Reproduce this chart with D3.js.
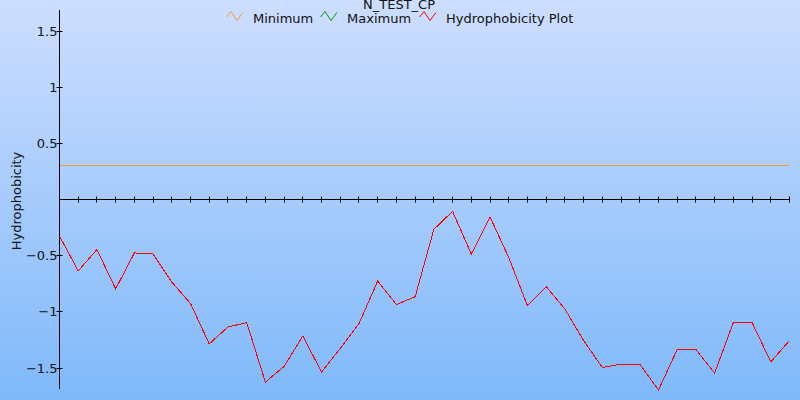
<!DOCTYPE html>
<html>
<head>
<meta charset="utf-8">
<script src="https://cdn.jsdelivr.net/npm/d3@7"></script>
<style>
html,body{margin:0;padding:0;background:#fff;}
svg{display:block;}
text{font-family:"DejaVu Sans",Verdana,sans-serif;}
</style>
</head>
<body>
<svg id="chart" width="800" height="400"></svg>
<script>
const title = "N_TEST_CP";
const yLabel = "Hydrophobicity";
const legendLabels = ["Minimum", "Maximum", "Hydrophobicity Plot"];
const legendColors = ["#f0a030", "#009a00", "#ff0000"];
const yTickValues = [-1.5, -1, -0.5, 0.5, 1, 1.5];
const minimumValue = 0.3;
const hydrophobicity = [
  -0.33, -0.64, -0.45, -0.80, -0.48, -0.49, -0.74, -0.93, -1.29, -1.14,
  -1.10, -1.63, -1.49, -1.22, -1.54, -1.33, -1.11, -0.73, -0.94, -0.87,
  -0.27, -0.11, -0.49, -0.16, -0.52, -0.95, -0.78, -0.98, -1.26, -1.50,
  -1.47, -1.47, -1.70, -1.34, -1.34, -1.55, -1.10, -1.10, -1.45, -1.26
];

const svg = d3.select("#chart");
const W = 800, H = 400;

// background gradient
const defs = svg.append("defs");
const grad = defs.append("linearGradient").attr("id","bg").attr("x1",0).attr("y1",0).attr("x2",0).attr("y2",1);
grad.append("stop").attr("offset","0%").attr("stop-color","rgb(205,222,254)");
grad.append("stop").attr("offset","100%").attr("stop-color","rgb(127,185,250)");
svg.append("rect").attr("width",W).attr("height",H).attr("fill","url(#bg)");

const x = d3.scaleLinear().domain([0, hydrophobicity.length - 1]).range([59.5, 789.5]);
const y = d3.scaleLinear().domain([-1.5, 1.5]).range([367.5, 30.5]);
const axisTop = 10, axisBottom = 389;

// minimum line
svg.append("line")
  .attr("x1", x(0)).attr("x2", x(hydrophobicity.length - 1))
  .attr("y1", Math.round(y(minimumValue)) + 0.5).attr("y2", Math.round(y(minimumValue)) + 0.5)
  .attr("stroke", legendColors[0]).attr("stroke-width", 1);

// y axis
const yAxisG = svg.append("g").attr("transform", "translate(59.5,0)");
yAxisG.append("line").attr("x1",0).attr("x2",0).attr("y1",axisTop).attr("y2",axisBottom)
  .attr("stroke","#000").attr("stroke-width",1);
yTickValues.forEach(v => {
  const yy = Math.round(y(v)) + 0.5;
  yAxisG.append("line").attr("x1",-3).attr("x2",3).attr("y1",yy).attr("y2",yy)
    .attr("stroke","#000").attr("stroke-width",1);
  yAxisG.append("text").attr("x",-2).attr("y",yy).attr("dy","0.36em")
    .attr("text-anchor","end").attr("font-size",13).attr("fill","#111")
    .text(d3.format("")(v));
});

// x axis at zero
const y0 = Math.round(y(0)) + 0.5;
const xAxisG = svg.append("g");
xAxisG.append("line").attr("x1",x(0)).attr("x2",x(hydrophobicity.length-1)).attr("y1",y0).attr("y2",y0)
  .attr("stroke","#000").attr("stroke-width",1);
d3.range(1, hydrophobicity.length).forEach(i => {
  const xx = Math.round(x(i) - 0.5) + 0.5;
  xAxisG.append("line").attr("x1",xx).attr("x2",xx).attr("y1",y0-3).attr("y2",y0+3)
    .attr("stroke","#000").attr("stroke-width",1);
});

// data line
const line = d3.line().x((d,i) => x(i)).y(d => y(d));
svg.append("path").datum(hydrophobicity)
  .attr("d", line).attr("fill","none").attr("stroke", legendColors[2]).attr("stroke-width",1)
  .attr("shape-rendering","crispEdges");

// y label
svg.append("text").attr("transform","translate(21,201) rotate(-90)")
  .attr("text-anchor","middle").attr("font-size",13).attr("fill","#111").text(yLabel);

// title
svg.append("text").attr("x",399).attr("y",8.5).attr("text-anchor","middle")
  .attr("font-size",13).attr("fill","#111").text(title);

// legend
const legendX = [226.5, 320.5, 419.5];
const legendTextX = [253, 347, 446];
legendLabels.forEach((lab, i) => {
  const g = svg.append("g").attr("transform", `translate(${legendX[i]},0)`);
  const pts = [[0,17],[4.5,11.5],[10.5,20.5],[16.5,12.5]];
  g.append("path").attr("d", d3.line()(pts)).attr("fill","none")
    .attr("stroke", legendColors[i]).attr("stroke-width",1);
  svg.append("text").attr("x", legendTextX[i]).attr("y", 22.5)
    .attr("font-size",13).attr("fill","#111").text(lab);
});
</script>
</body>
</html>
